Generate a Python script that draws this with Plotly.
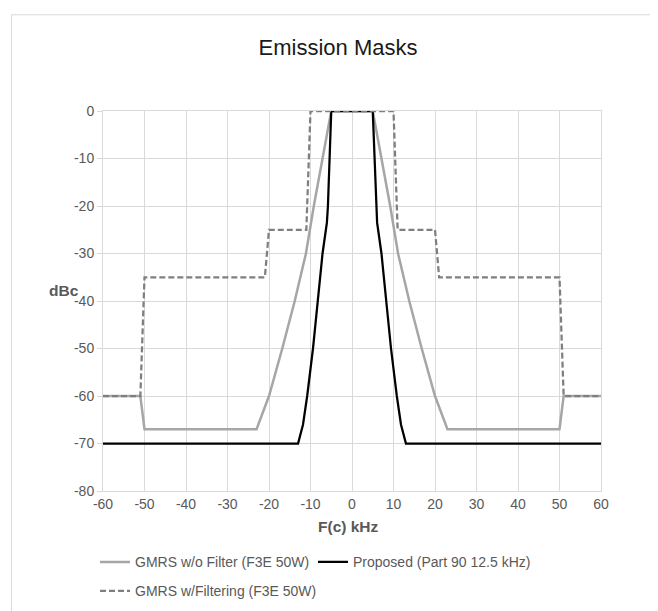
import plotly.graph_objects as go

# ---- data ----
gmrs_nofilter_khz = [-60, -51, -50, -23, -20, -16.8, -13.8, -11.1, -9.2, -7.1, -5,
                     5, 7.1, 9.2, 11.1, 13.8, 16.8, 20, 23, 50, 51, 60]
gmrs_nofilter_db = [-60, -60, -67, -67, -60, -50, -40, -30, -20, -10, 0,
                    0, -10, -20, -30, -40, -50, -60, -67, -67, -60, -60]

proposed_khz = [-60, -13, -11.8, -10.8, -9.4, -8.25, -7.1, -6.05, -5.8, -5.4, -5,
                5, 5.4, 5.8, 6.05, 7.1, 8.25, 9.4, 10.8, 11.8, 13, 60]
proposed_db = [-70, -70, -66, -60, -50, -40, -30, -23.5, -20, -10, 0,
               0, -10, -20, -23.5, -30, -40, -50, -60, -66, -70, -70]

gmrs_filter_khz = [-60, -51, -50, -21, -20, -11, -10, 10, 11, 20, 21, 50, 51, 60]
gmrs_filter_db = [-60, -60, -35, -35, -25, -25, 0, 0, -25, -25, -35, -35, -60, -60]

x_ticks = [-60, -50, -40, -30, -20, -10, 0, 10, 20, 30, 40, 50, 60]
x_tick_labels = ["-60", "-50", "-40", "-30", "-20", "-10", "0", "10", "20", "30", "40", "50", "60"]
y_ticks = [0, -10, -20, -30, -40, -50, -60, -70, -80]
y_tick_labels = ["0", "-10", "-20", "-30", "-40", "-50", "-60", "-70", "-80"]

names = ["GMRS w/o Filter (F3E 50W)", "Proposed (Part 90 12.5 kHz)",
         "GMRS w/Filtering (F3E 50W)"]

FONT = "Liberation Sans"
GRID = "#D9D9D9"
TXT = "#595959"

fig = go.Figure()
fig.add_trace(go.Scatter(x=gmrs_nofilter_khz, y=gmrs_nofilter_db, mode="lines",
                         name=names[0], line=dict(color="#A6A6A6", width=2.5),
                         legend="legend"))
fig.add_trace(go.Scatter(x=proposed_khz, y=proposed_db, mode="lines",
                         name=names[1], line=dict(color="#000000", width=2.25),
                         legend="legend"))
fig.add_trace(go.Scatter(x=gmrs_filter_khz, y=gmrs_filter_db, mode="lines",
                         name=names[2],
                         line=dict(color="#7F7F7F", width=2.25, dash="6px,3px"),
                         legend="legend2"))

OFF = 8  # page body margin
W, H = 658, 611
L, T = 103 - OFF, 110.7 - OFF
pw, ph = 498, 380
R = W - L - pw
B = H - T - ph

def px_x(px):
    return (px - OFF - L) / pw

def px_y(py):
    return (T + ph - (py - OFF)) / ph

legend_font = dict(family=FONT, size=14, color=TXT)

fig.update_layout(
    width=W, height=H,
    margin=dict(l=L, r=R, t=T, b=B),
    paper_bgcolor="white", plot_bgcolor="white",
    title=dict(text="Emission Masks", x=(338 - OFF) / W, xanchor="center",
               y=1 - (47.7 - OFF) / H, yanchor="middle",
               font=dict(family=FONT, size=22, color="#1a1a1a")),
    xaxis=dict(range=[-60, 60], tickvals=x_ticks, ticktext=x_tick_labels,
               showgrid=True, gridcolor=GRID,
               gridwidth=1, zeroline=False, showline=True, linecolor=GRID,
               mirror=True, ticks="", tickfont=dict(family=FONT, size=14, color=TXT)),
    yaxis=dict(range=[-80, 0], tickvals=y_ticks, ticktext=y_tick_labels,
               showgrid=True, gridcolor=GRID,
               gridwidth=1, zeroline=False, showline=True, linecolor=GRID,
               mirror=True, ticks="outside", ticklen=5, tickcolor=GRID,
               tickfont=dict(family=FONT, size=14, color=TXT)),
    legend=dict(x=px_x(95), y=px_y(562), orientation="h", xanchor="left",
                yanchor="middle", font=legend_font, bgcolor="rgba(0,0,0,0)",
                entrywidth=173, entrywidthmode="pixels", itemclick=False),
    legend2=dict(x=px_x(95), y=px_y(591), orientation="h", xanchor="left",
                 yanchor="middle", font=legend_font, bgcolor="rgba(0,0,0,0)",
                 itemclick=False),
    showlegend=True,
    annotations=[
        dict(text="<b>dBc</b>", x=px_x(47), y=px_y(290), xref="paper", yref="paper",
             showarrow=False, font=dict(family=FONT, size=15.5, color=TXT)),
        dict(text="<b>F(c) kHz</b>", x=px_x(348), y=px_y(536.5), xref="paper",
             yref="paper", showarrow=False, font=dict(family=FONT, size=15.5, color=TXT)),
    ],
    shapes=[
        dict(type="rect", xref="paper", yref="paper",
             x0=px_x(11.5), x1=px_x(W + 20), y0=px_y(H + 20), y1=px_y(14.5),
             line=dict(color=GRID, width=1), fillcolor="rgba(0,0,0,0)", layer="below"),
    ],
)

fig.write_html("out.html")
